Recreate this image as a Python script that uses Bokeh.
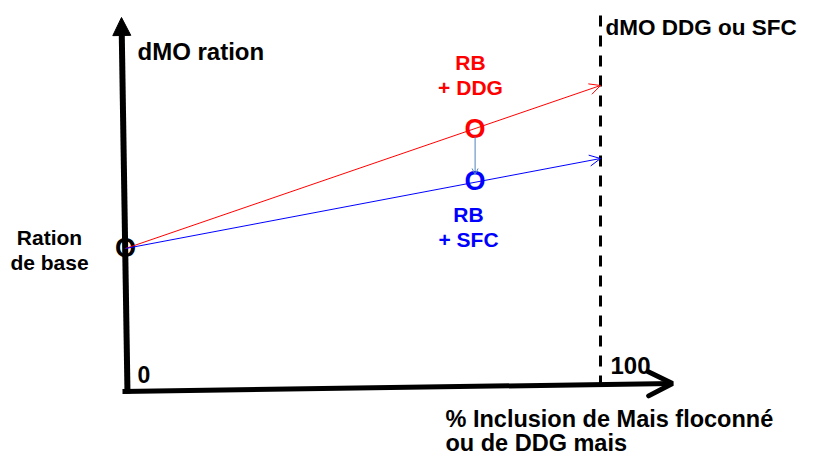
from bokeh.plotting import figure
from bokeh.models import Arrow, OpenHead, NormalHead, Label, Range1d, ColumnDataSource
from bokeh.core.properties import value
from bokeh.embed import file_html
from bokeh.resources import INLINE

# ---- data (x: % inclusion, y: dMO in arbitrary units) ----
inclusion = [0, 100]
dmo_rb_ddg = [140, 303]
dmo_rb_sfc = [140, 230]
point_inclusion = [73.6, 73.6]
point_dmo = [259, 207]
point_colors = ["#ff0000", "#0000ff"]
x_tick_labels = ["0", "100"]

# ---- layout helpers (pixel -> chart units) ----
PX_PER_PCT = 4.75
def X(ix):
    return (ix - 125) / PX_PER_PCT
def Y(iy):
    return 388 - iy

FONT = "Liberation Sans"
W, H = 801, 458

p = figure(width=W, height=H,
           x_range=Range1d(X(0), X(W)), y_range=Range1d(Y(H), Y(0)),
           x_axis_type=None, y_axis_type=None,
           output_backend="svg", toolbar_location=None, min_border=0)
p.grid.visible = False
p.outline_line_color = None
p.background_fill_color = "white"
p.border_fill_color = "white"

# dashed vertical line at 100 %
p.segment(x0=[inclusion[1]], y0=[Y(386)], x1=[inclusion[1]], y1=[Y(15)],
          line_color="black", line_width=3, line_dash="11 9")

# axes drawn as arrows
p.add_layout(Arrow(end=NormalHead(size=18, fill_color="black", line_color="black"),
                   x_start=X(127), y_start=Y(393), x_end=X(121), y_end=Y(17),
                   line_width=6, line_color="black"))
p.add_layout(Arrow(end=OpenHead(size=24, line_width=5, line_color="black", line_cap="round"),
                   x_start=X(122), y_start=Y(391), x_end=X(672), y_end=Y(383),
                   line_width=5, line_color="black"))

# series arrows
p.add_layout(Arrow(end=OpenHead(size=11, line_width=1, line_color="#ff0000"),
                   x_start=inclusion[0], y_start=dmo_rb_ddg[0],
                   x_end=inclusion[1], y_end=dmo_rb_ddg[1],
                   line_width=1, line_color="#ff0000"))
p.add_layout(Arrow(end=OpenHead(size=11, line_width=1, line_color="#0000ff"),
                   x_start=inclusion[0], y_start=dmo_rb_sfc[0],
                   x_end=inclusion[1], y_end=dmo_rb_sfc[1],
                   line_width=1, line_color="#0000ff"))
# small connector arrow between the two points
p.add_layout(Arrow(end=OpenHead(size=6, line_width=1, line_color="#4f81bd"),
                   x_start=point_inclusion[0], y_start=point_dmo[0] - 7,
                   x_end=point_inclusion[1], y_end=point_dmo[1] + 7,
                   line_width=1, line_color="#4f81bd"))

# "O" markers
src = ColumnDataSource(dict(x=[inclusion[0]] + point_inclusion,
                            y=[dmo_rb_ddg[0]] + point_dmo,
                            c=["black"] + point_colors,
                            t=["O", "O", "O"]))
p.text(x="x", y="y", text="t", text_color="c", source=src,
       text_font=value(FONT), text_font_style="bold", text_font_size="27px",
       text_align="center", text_baseline="middle", y_offset=-1)

BASE_FIX = 8  # labels render a bit low with alphabetic baseline

def lab(ix, iy, text, size="23px", color="black", align="left"):
    p.add_layout(Label(x=X(ix), y=Y(iy - BASE_FIX), text=text, text_font=FONT,
                       text_font_style="bold", text_font_size=size,
                       text_color=color, text_align=align,
                       text_baseline="alphabetic"))

lab(137, 59, "dMO ration", "24px")
lab(605, 35, "dMO DDG ou SFC", "22.5px")
lab(49, 245, "Ration", "21px", align="center")
lab(49, 270, "de base", "21px", align="center")
lab(470, 70, "RB", "21px", "#ff0000", "center")
lab(470, 95, "+ DDG", "21px", "#ff0000", "center")
lab(468, 222, "RB", "21px", "#0000ff", "center")
lab(468, 247, "+ SFC", "21px", "#0000ff", "center")
lab(137, 382, x_tick_labels[0], "23px")
lab(610, 373, x_tick_labels[1], "24px")
lab(445, 426, "% Inclusion de Mais floconné", "23.5px")
lab(445, 450, "ou de DDG mais", "23.5px")

open("out.html", "w").write(file_html(p, INLINE))
